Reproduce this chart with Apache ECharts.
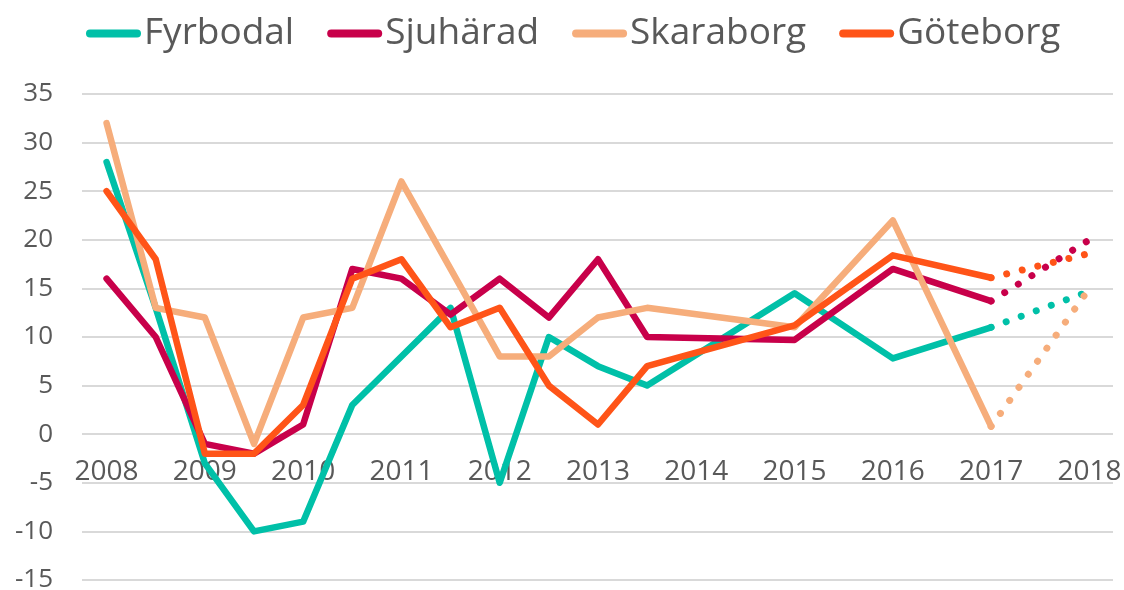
<!DOCTYPE html>
<html style="height: 100%">
<head>
    <meta charset="utf-8">
</head>
<body style="height: 100%; margin: 0">
<div id="container" style="width: 1124px; height: 590px"></div>

<script type="text/javascript" src="https://cdn.jsdelivr.net/npm/echarts@6/dist/echarts.min.js"></script>
<script type="text/javascript">
    // half-year points up to 2013.5, then yearly
    let periods = [2008, 2008.5, 2009, 2009.5, 2010, 2010.5, 2011, 2011.5, 2012, 2012.5, 2013, 2013.5, 2015, 2016, 2017];
    let forecastPeriods = [2017, 2018];
    let yearTicks = [2008, 2009, 2010, 2011, 2012, 2013, 2014, 2015, 2016, 2017, 2018];

    let fyrbodal = [28, 13, -3, -10, -9, 3, 8, 13, -5, 10, 7, 5, 14.5, 7.8, 11];
    let sjuharad = [16, 10, -1, -2, 1, 17, 16, 12.3, 16, 12, 18, 10, 9.7, 17, 13.7];
    let skaraborg = [32, 13, 12, -1, 12, 13, 26, 17, 8, 8, 12, 13, 11, 22, 0.8];
    let goteborg = [25, 18, -2, -2, 3, 16, 18, 11, 13, 5, 1, 7, 11.2, 18.4, 16.1];

    let fyrbodalForecast = [11, 14.7];
    let sjuharadForecast = [13.7, 20];
    let skaraborgForecast = [0.8, 15];
    let goteborgForecast = [16.1, 18.6];

    let names = ['Fyrbodal', 'Sjuhärad', 'Skaraborg', 'Göteborg'];
    let colors = ['#00c0a8', '#c8004a', '#f6ad7b', '#ff5418'];
    let actual = [fyrbodal, sjuharad, skaraborg, goteborg];
    let forecast = [fyrbodalForecast, sjuharadForecast, skaraborgForecast, goteborgForecast];

    function pairs(xs, ys) {
        return xs.map(function (x, i) { return [x, ys[i]]; });
    }

    let series = [];
    for (let i = 0; i < names.length; i++) {
        series.push({
            name: names[i],
            type: 'line',
            symbol: 'none',
            z: 2 + i,
            lineStyle: {color: colors[i], width: 6.5, cap: 'round', join: 'round'},
            itemStyle: {color: colors[i]},
            data: pairs(periods, actual[i])
        });
        series.push({
            name: names[i],
            type: 'line',
            symbol: 'none',
            z: 2 + i,
            lineStyle: {color: colors[i], width: 7, cap: 'round', type: [0.01, 16]},
            itemStyle: {color: colors[i]},
            data: pairs(forecastPeriods, forecast[i])
        });
    }

    let legendIcon = 'path://M4,0H51A4,4,0,0,1,51,8H4A4,4,0,0,1,4,0Z';

    var dom = document.getElementById("container");
    var myChart = echarts.init(dom);
    var option = {
        animation: false,
        textStyle: {fontFamily: 'Open Sans'},
        legend: {
            data: names.map(function (n, i) {
                return {name: n, icon: legendIcon, itemStyle: {color: colors[i]}};
            }),
            left: 81,
            top: 10,
            itemWidth: 55,
            itemHeight: 8,
            itemGap: 33,
            textStyle: {fontSize: 37, color: '#595959', fontFamily: 'Open Sans', padding: [0, 0, 0, -2]}
        },
        grid: {left: 82, right: 11, top: 94, bottom: 10, containLabel: false, outerBoundsMode: 'none'},
        xAxis: {
            type: 'value',
            position: 'bottom',
            offset: -146,
            min: 2007.75,
            max: 2018.24,
            splitLine: {show: false},
            axisLine: {show: false, onZero: false},
            axisTick: {show: false},
            axisLabel: {
                customValues: yearTicks,
                formatter: function (v) { return String(v); },
                fontSize: 28,
                color: '#595959',
                margin: 24
            }
        },
        yAxis: {
            type: 'value',
            min: -15,
            max: 35,
            interval: 5,
            axisLine: {show: false},
            axisTick: {show: false},
            splitLine: {lineStyle: {color: '#d9d9d9', width: 2}},
            axisLabel: {fontSize: 26, color: '#595959', margin: 29}
        },
        series: series
    };

    if (option && typeof option === 'object') {
        myChart.setOption(option);
    }
</script>
</body>
</html>
